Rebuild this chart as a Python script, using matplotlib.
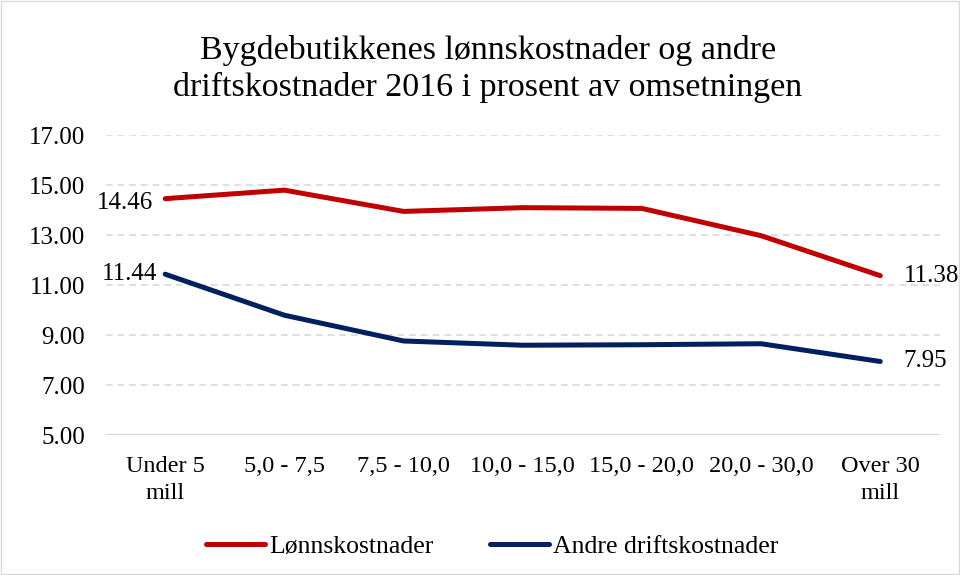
import matplotlib.pyplot as plt

categories = ["Under 5\nmill", "5,0 - 7,5", "7,5 - 10,0", "10,0 - 15,0",
              "15,0 - 20,0", "20,0 - 30,0", "Over 30\nmill"]
lonn = [14.46, 14.80, 13.95, 14.10, 14.07, 12.98, 11.38]
andre = [11.44, 9.80, 8.77, 8.60, 8.62, 8.66, 7.95]
yticks = [5, 7, 9, 11, 13, 15, 17]

plt.rcParams['font.family'] = ['Liberation Serif', 'DejaVu Serif']

fig = plt.figure(figsize=(9.6, 5.75), dpi=100)
ax = fig.add_axes([0.110, 0.243, 0.869, 0.522])

x = list(range(len(categories)))
red = "#c00000"
navy = "#002060"
ax.plot(x, lonn, color=red, lw=3.6, solid_capstyle='round', label="Lønnskostnader")
ax.plot(x, andre, color=navy, lw=3.6, solid_capstyle='round', label="Andre driftskostnader")

ax.set_xlim(-0.5, len(categories) - 0.5)
ax.set_ylim(5, 17)
ax.set_yticks(yticks)
ax.set_yticklabels([f"{v:.2f}" for v in yticks], fontsize=18)
ax.set_xticks(x)
ax.set_xticklabels(categories, fontsize=17.5, linespacing=1.35)
ax.tick_params(length=0)
ax.tick_params(axis='x', pad=15)
ax.tick_params(axis='y', pad=15)

for v in yticks[1:]:
    ax.axhline(v, color="#d9d9d9", lw=1.2, ls=(0, (4, 3)), zorder=0)
ax.axhline(5, color="#d9d9d9", lw=1.5, zorder=0)
for s in ax.spines.values():
    s.set_visible(False)

# data labels at the ends
ax.annotate(f"{lonn[0]:.2f}", (0, lonn[0]), xytext=(-9, -3), textcoords='offset points',
            ha='right', va='center', fontsize=18)
ax.annotate(f"{andre[0]:.2f}", (0, andre[0]), xytext=(-6, 0), textcoords='offset points',
            ha='right', va='center', fontsize=18)
ax.annotate(f"{lonn[-1]:.2f}", (x[-1], lonn[-1]), xytext=(17, 0), textcoords='offset points',
            ha='left', va='center', fontsize=18)
ax.annotate(f"{andre[-1]:.2f}", (x[-1], andre[-1]), xytext=(17, 0), textcoords='offset points',
            ha='left', va='center', fontsize=18)

fig.suptitle("Bygdebutikkenes lønnskostnader og andre\ndriftskostnader 2016 i prosent av omsetningen",
             x=0.508, y=0.94, fontsize=24.5, linespacing=1.25)

fig.legend(loc='center', bbox_to_anchor=(0.513, 0.05), ncol=2, frameon=False,
           fontsize=18.5, handlelength=2.3, handletextpad=0.15, columnspacing=2.2)

fig.add_artist(plt.Rectangle((0.001, 0.001), 0.998, 0.998, transform=fig.transFigure,
                             fill=False, edgecolor="#d9d9d9", lw=1))

fig.savefig("out.png", dpi=100)
